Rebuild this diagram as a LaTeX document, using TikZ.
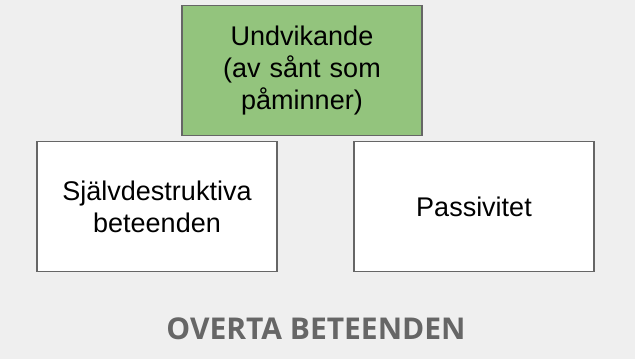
\documentclass[tikz,border=0pt]{standalone}
\usepackage{fontspec}
\setmainfont{Liberation Sans}
\newfontfamily\titlefont{Open Sans}
\definecolor{PageGray}{HTML}{EFEFEF}
\definecolor{BoxGreen}{HTML}{93C47D}
\definecolor{EdgeGray}{HTML}{666666}
\usetikzlibrary{positioning}

\begin{document}
\begin{tikzpicture}[x=1pt,y=-1pt,
    behaviour/.style={draw=EdgeGray, line width=1.6pt, fill=white,
      minimum width=240pt, minimum height=130pt, inner sep=0pt,
      text width=232pt, align=center,
      font=\fontsize{27}{32}\selectfont}]
  \fill[PageGray] (0,0) rectangle (635,359);
  \node[behaviour, fill=BoxGreen] (avoid) at (302,70.5)
    {Undvikande\\(av sånt som\\påminner)};
  \node[behaviour] (selfharm) at (157,206.5) {Självdestruktiva\\beteenden};
  \node[behaviour] (passive) at (474,206.5) {Passivitet};
  \node[font=\titlefont\bfseries\fontsize{30}{36}\selectfont, text=EdgeGray]
    (title) at (316,329) {OVERTA BETEENDEN};
\end{tikzpicture}
\end{document}
